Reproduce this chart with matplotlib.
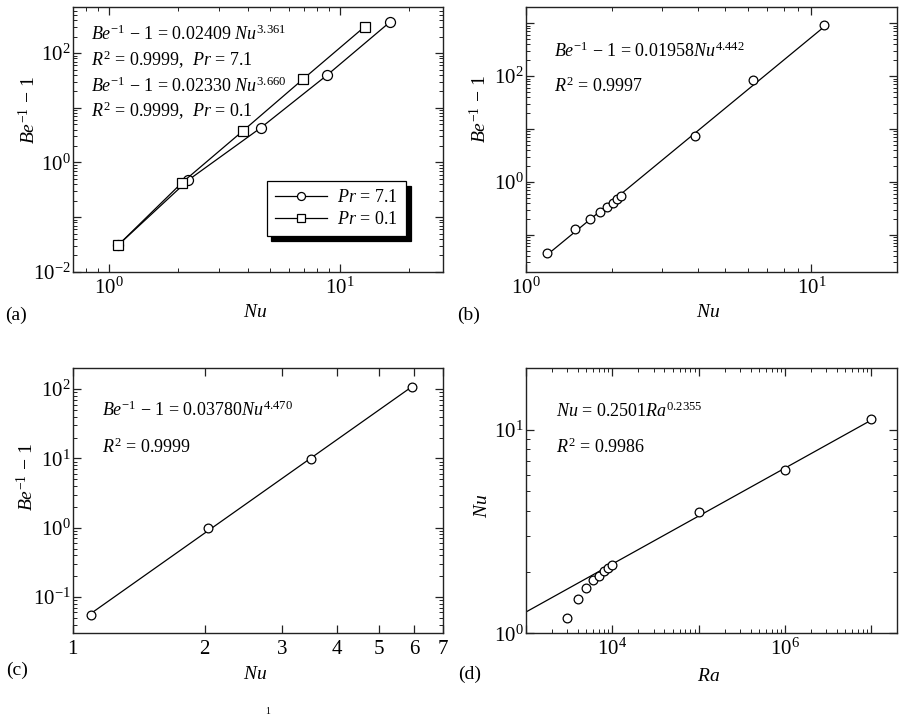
import numpy as np
import matplotlib
matplotlib.use("Agg")
import matplotlib.pyplot as plt
from matplotlib.ticker import LogLocator, FuncFormatter, FixedLocator, NullLocator, NullFormatter

plt.rcParams['font.family'] = ['Liberation Serif', 'DejaVu Serif']
plt.rcParams['mathtext.fontset'] = 'custom'
plt.rcParams['mathtext.rm'] = 'Liberation Serif'
plt.rcParams['mathtext.it'] = 'Liberation Serif:italic'
plt.rcParams['mathtext.bf'] = 'Liberation Serif:bold'
plt.rcParams['font.size'] = 13

# ---------------- data ----------------
# (a)
a_nu_pr71 = [1.10, 2.21, 4.55, 8.81, 16.4]
a_be_pr71 = [0.0306, 0.474, 4.30, 39.7, 366]
a_nu_pr01 = [1.10, 2.07, 3.80, 6.94, 12.8]
a_be_pr01 = [0.0306, 0.42, 3.74, 33.6, 305]
a_labels = [r'$Pr$ = 7.1', r'$Pr$ = 0.1']
# (b)
b_nu = [1.18, 1.48, 1.67, 1.81, 1.92, 2.01, 2.08, 2.15, 3.91, 6.25, 11.1]
b_be = [0.046, 0.129, 0.202, 0.270, 0.336, 0.406, 0.470, 0.543, 7.43, 84, 910]
b_fit = (0.01958, 4.442)
# (c)
c_nu = [1.10, 2.03, 3.49, 5.95]
c_be = [0.0546, 1.0, 9.95, 106]
c_fit = (0.03780, 4.470)
# (d)
d_ra = [3000, 4000, 5000, 6000, 7000, 8000, 9000, 10000, 1e5, 1e6, 1e7]
d_nu = [1.19, 1.48, 1.67, 1.82, 1.92, 2.02, 2.10, 2.17, 3.92, 6.33, 11.3]
d_fit = (0.2501, 0.2355)
d_fit_range = (1e3, 1e7)
c_xticks = [1, 2, 3, 4, 5, 6, 7]

W, H = 904, 718
fig = plt.figure(figsize=(W / 100, H / 100), dpi=100)

TICK_FS = 15
ANN_FS = 13
LAB_FS = 14


def px_axes(l, t, r, b):
    return fig.add_axes([l / W, 1 - b / H, (r - l) / W, (b - t) / H])


def even_fmt(v, pos):
    e = int(round(np.log10(v)))
    if abs(10 ** e - v) / v > 1e-6:
        return ''
    return r'$\mathdefault{10^{%d}}$' % e if e % 2 == 0 else ''


def all_fmt(v, pos):
    e = int(round(np.log10(v)))
    if abs(10 ** e - v) / v > 1e-6:
        return ''
    return r'$\mathdefault{10^{%d}}$' % e


def style(ax):
    for s in ax.spines.values():
        s.set_linewidth(1.0)
        s.set_color('#222222')
    ax.tick_params(which='both', direction='in', top=True, right=True,
                   labelsize=TICK_FS, color='#222222')
    ax.tick_params(which='major', length=6, width=0.9)
    ax.tick_params(which='minor', length=3, width=0.7)
    ax.tick_params(axis='x', which='major', pad=4)
    ax.tick_params(axis='y', which='major', pad=1.5)


def log_axis(axis, fmt):
    axis.set_major_locator(LogLocator(base=10, numticks=20))
    axis.set_minor_locator(LogLocator(base=10, subs=np.arange(2, 10), numticks=20))
    axis.set_major_formatter(FuncFormatter(fmt))
    axis.set_minor_formatter(NullFormatter())


def ann(ax, x, y, s):
    ax.text(x, y, s, transform=ax.transAxes, fontsize=ANN_FS, va='baseline', ha='left')


lw = 0.9
mk = dict(markerfacecolor='white', markeredgecolor='black', markeredgewidth=0.9)

# ---------------- (a) ----------------
ax = px_axes(72.7, 7, 443.3, 271.7)
ax.set_xscale('log'); ax.set_yscale('log')
ax.plot(a_nu_pr71, a_be_pr71, '-o', color='black', lw=lw, ms=7.2, label=a_labels[0], **mk)
ax.plot(a_nu_pr01, a_be_pr01, '-s', color='black', lw=lw, ms=7.2, label=a_labels[1], **mk)
ax.set_xlim(0.7, 28)
ax.set_ylim(0.01, 700)
log_axis(ax.xaxis, all_fmt)
log_axis(ax.yaxis, even_fmt)
style(ax)
txt = ['$Be^{-1}$ \u2212 1 = 0.02409 $Nu^{3.361}$',
       '$R^{2}$ = 0.9999,  $Pr$ = 7.1',
       '$Be^{-1}$ \u2212 1 = 0.02330 $Nu^{3.660}$',
       '$R^{2}$ = 0.9999,  $Pr$ = 0.1']
for s, yy in zip(txt, [0.875, 0.778, 0.680, 0.583]):
    ann(ax, 0.0486, yy, s)
leg = ax.legend(loc='lower right', bbox_to_anchor=(0.899, 0.135), borderaxespad=0,
                fancybox=False, edgecolor='black', framealpha=1,
                shadow={'ox': 3.5, 'oy': -3.5, 'facecolor': 'black', 'edgecolor': 'black', 'alpha': 1},
                handlelength=2.9, handletextpad=0.55, labelspacing=0.25, borderpad=0.45,
                fontsize=13, markerscale=0.8)
leg.get_frame().set_linewidth(0.9)
ax.text(-0.118, 0.611, '$Be^{-1}$ \u2212 1', transform=ax.transAxes, rotation=90,
        ha='center', va='center', fontsize=LAB_FS)
ax.text(0.492, -0.156, r'$Nu$', transform=ax.transAxes, ha='center', va='center', fontsize=LAB_FS)

# ---------------- (b) ----------------
ax = px_axes(526, 7.3, 897.3, 271.7)
ax.set_xscale('log'); ax.set_yscale('log')
xf = np.array([min(b_nu), max(b_nu)])
ax.plot(xf, b_fit[0] * xf ** b_fit[1], '-', color='black', lw=lw)
ax.plot(b_nu, b_be, 'o', ms=6.3, **mk)
ax.set_xlim(1, 20)
ax.set_ylim(0.02, 2000)
log_axis(ax.xaxis, all_fmt)
log_axis(ax.yaxis, even_fmt)
style(ax)
ann(ax, 0.076, 0.813, '$Be^{-1}$ \u2212 1 = 0.01958$Nu^{4.442}$')
ann(ax, 0.076, 0.681, '$R^{2}$ = 0.9997')
ax.text(-0.124, 0.615, '$Be^{-1}$ \u2212 1', transform=ax.transAxes, rotation=90,
        ha='center', va='center', fontsize=LAB_FS)
ax.text(0.491, -0.156, r'$Nu$', transform=ax.transAxes, ha='center', va='center', fontsize=LAB_FS)

# ---------------- (c) ----------------
ax = px_axes(72.7, 368.3, 443.3, 633.3)
ax.set_xscale('log'); ax.set_yscale('log')
xf = np.array([min(c_nu), max(c_nu)])
ax.plot(xf, c_fit[0] * xf ** c_fit[1], '-', color='black', lw=lw)
ax.plot(c_nu, c_be, 'o', ms=6.3, **mk)
ax.set_xlim(1, 7)
ax.set_ylim(0.03, 200)
ax.xaxis.set_major_locator(FixedLocator(c_xticks))
ax.xaxis.set_major_formatter(FuncFormatter(lambda v, p: '%d' % round(v)))
ax.xaxis.set_minor_locator(NullLocator())
log_axis(ax.yaxis, all_fmt)
style(ax)
ax.tick_params(axis='x', which='major', pad=5)
ann(ax, 0.078, 0.820, '$Be^{-1}$ \u2212 1 = 0.03780$Nu^{4.470}$')
ann(ax, 0.078, 0.679, '$R^{2}$ = 0.9999')
ax.text(-0.124, 0.591, '$Be^{-1}$ \u2212 1', transform=ax.transAxes, rotation=90,
        ha='center', va='center', fontsize=LAB_FS)
ax.text(0.492, -0.157, r'$Nu$', transform=ax.transAxes, ha='center', va='center', fontsize=LAB_FS)

# ---------------- (d) ----------------
ax = px_axes(526, 368.3, 897.3, 633.3)
ax.set_xscale('log'); ax.set_yscale('log')
xf = np.array(d_fit_range)
ax.plot(xf, d_fit[0] * xf ** d_fit[1], '-', color='black', lw=lw)
ax.plot(d_ra, d_nu, 'o', ms=6.3, **mk)
ax.set_xlim(1e3, 2e7)
ax.set_ylim(1, 20)
log_axis(ax.xaxis, even_fmt)
log_axis(ax.yaxis, all_fmt)
style(ax)
ann(ax, 0.081, 0.818, '$Nu$ = 0.2501$Ra^{0.2355}$')
ann(ax, 0.081, 0.679, '$R^{2}$ = 0.9986')
ax.text(-0.117, 0.480, r'$Nu$', transform=ax.transAxes, rotation=90,
        ha='center', va='center', fontsize=LAB_FS)
ax.text(0.491, -0.164, r'$Ra$', transform=ax.transAxes, ha='center', va='center', fontsize=LAB_FS)

# panel letters
for lab, x, y in [('(a)', 5, 315), ('(b)', 457, 315), ('(c)', 6, 670), ('(d)', 458, 674)]:
    fig.text(x / W, 1 - y / H, lab, ha='left', va='center', fontsize=14)

# caption fragment at the bottom edge
fig.text(268 / W, 1 - 711 / H, '1', ha='center', va='center', fontsize=7)

fig.savefig('out.png', dpi=100)
